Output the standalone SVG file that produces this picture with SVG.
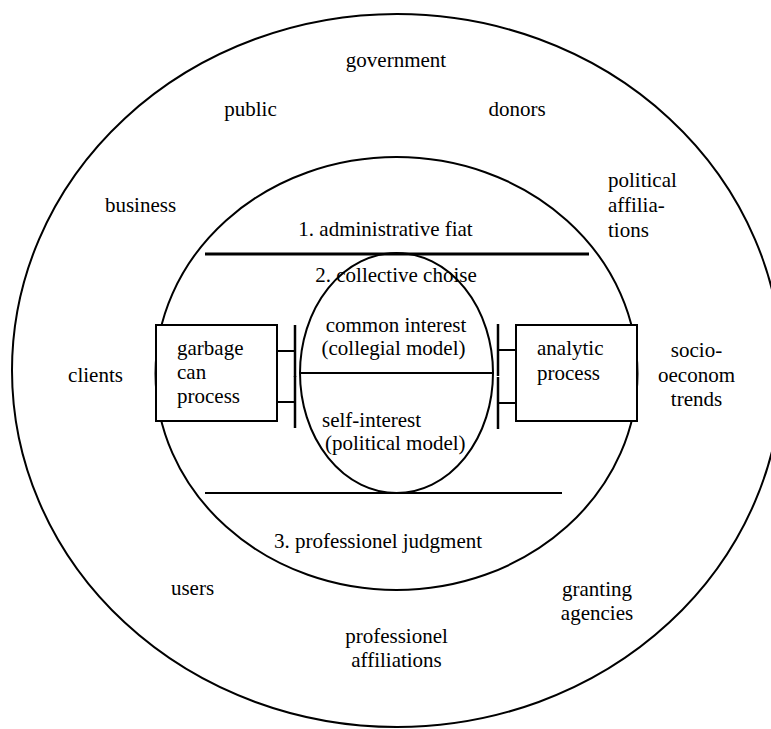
<svg xmlns="http://www.w3.org/2000/svg" width="771" height="729" viewBox="0 0 771 729">
<style>
  .ring { fill: none; stroke: #000; stroke-width: 2; }
  .box { fill: #fff; stroke: #000; stroke-width: 2; }
  .rule { stroke: #000; stroke-width: 2; }
  .conn { stroke: #000; stroke-width: 2; fill: none; marker-end: url(#tbar); }
  .c { text-anchor: middle; }
</style>
<defs>
  <marker id="tbar" markerUnits="userSpaceOnUse" markerWidth="4" markerHeight="56" viewBox="0 0 4 56" refX="2" refY="28" orient="auto">
    <path d="M2,2 V54" stroke="#000" stroke-width="2.5"/>
  </marker>
</defs>
<rect width="771" height="729" fill="#fff"/>
<g font-family="Liberation Serif, DejaVu Serif, serif" font-size="21" fill="#000">

<g id="outer-ring">
  <ellipse class="ring" cx="397" cy="370.5" rx="385" ry="356.5"/>
  <text class="c" x="396" y="67">government</text>
  <text class="c" x="250.5" y="116">public</text>
  <text class="c" x="517" y="116">donors</text>
  <text class="c" x="140.5" y="212">business</text>
  <text x="608" y="187">political</text>
  <text x="608" y="212">affilia-</text>
  <text x="608" y="237">tions</text>
  <text class="c" x="95.5" y="382">clients</text>
  <text class="c" x="696.5" y="357">socio-</text>
  <text class="c" x="696.5" y="382">oeconom</text>
  <text class="c" x="696.5" y="406">trends</text>
  <text class="c" x="192.5" y="595">users</text>
  <text class="c" x="597" y="596">granting</text>
  <text class="c" x="597" y="620">agencies</text>
  <text class="c" x="396.5" y="643">professionel</text>
  <text class="c" x="396.5" y="667">affiliations</text>
</g>

<g id="inner-ring">
  <ellipse class="ring" cx="396.5" cy="373.5" rx="241" ry="216.5"/>
  <line class="rule" x1="205" y1="254" x2="589" y2="254" style="stroke-width:3"/>
  <line class="rule" x1="205" y1="493" x2="562" y2="493"/>
  <text class="c" x="385.5" y="236">1. administrative fiat</text>
  <text class="c" x="396" y="282">2. collective choise</text>
  <text class="c" x="378" y="548">3. professionel judgment</text>
</g>

<g id="collective-choice">
  <ellipse class="ring" cx="396.5" cy="373" rx="96.5" ry="120"/>
  <line class="rule" x1="300" y1="373" x2="493" y2="373"/>
  <text class="c" x="396" y="332">common interest</text>
  <text class="c" x="393.5" y="355">(collegial model)</text>
  <text x="322" y="427">self-interest</text>
  <text x="325" y="450">(political model)</text>
</g>

<g id="garbage-can-process">
  <rect class="box" x="156" y="325" width="121" height="96"/>
  <text x="177" y="355">garbage</text>
  <text x="177" y="379">can</text>
  <text x="177" y="403">process</text>
</g>

<g id="analytic-process">
  <rect class="box" x="516" y="325" width="121" height="96"/>
  <text x="537" y="355">analytic</text>
  <text x="537" y="380">process</text>
</g>

</g>
<g id="connectors">
  <line class="conn" x1="277" y1="351" x2="295" y2="351"/>
  <line class="conn" x1="277" y1="402" x2="295" y2="402"/>
  <line class="conn" x1="516" y1="350" x2="498" y2="350"/>
  <line class="conn" x1="516" y1="403" x2="498" y2="403"/>
</g>
</svg>
